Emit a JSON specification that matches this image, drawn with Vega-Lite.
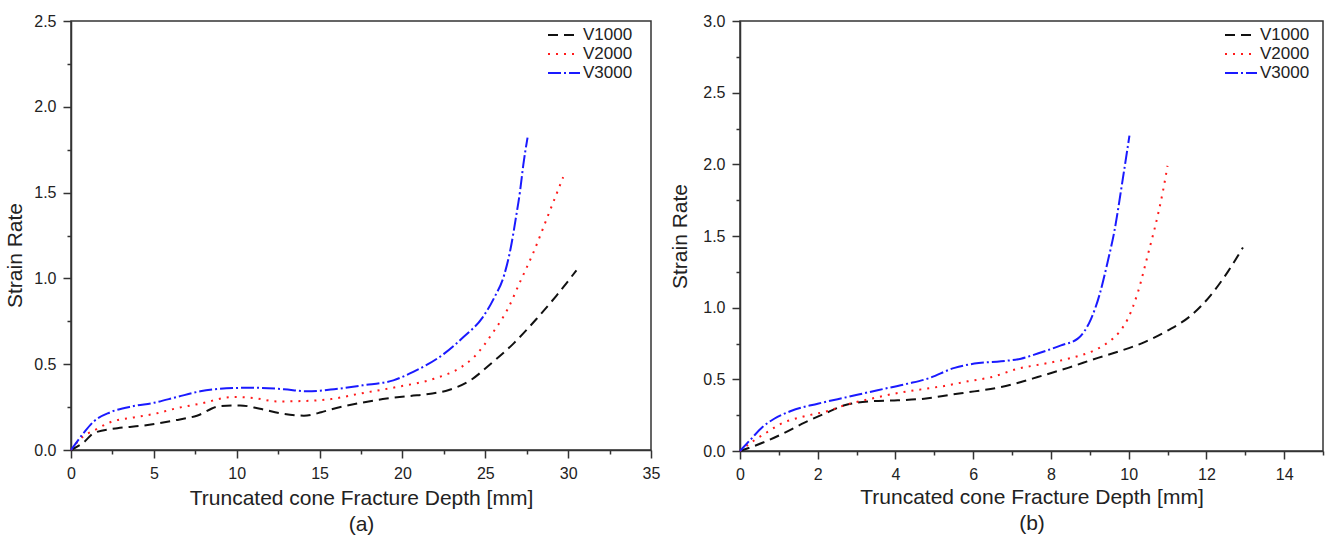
{
  "$schema": "https://vega.github.io/schema/vega-lite/v6.json",
  "background": "white",
  "padding": {"left": 4, "top": 12, "right": 0, "bottom": 0},
  "spacing": 8,
  "resolve": {
    "scale": {"color": "independent", "strokeDash": "independent"},
    "legend": {"color": "independent", "strokeDash": "independent"}
  },
  "config": {
    "view": {"stroke": "#333333", "strokeWidth": 1.5},
    "axis": {
      "grid": false,
      "domainColor": "#333333",
      "domainWidth": 1.5,
      "tickColor": "#333333",
      "tickWidth": 1.5,
      "labelFont": "Liberation Sans",
      "labelFontSize": 16,
      "labelColor": "#222222",
      "labelPadding": 7,
      "labelOverlap": false,
      "labelFlush": false,
      "titleFont": "Liberation Sans",
      "titleFontSize": 21,
      "titleFontWeight": "normal",
      "titleColor": "#222222"
    },
    "legend": {
      "padding": 0,
      "title": null,
      "labelFont": "Liberation Sans",
      "labelFontSize": 17,
      "labelColor": "#222222",
      "symbolType": "M-1.6,0H1.6",
      "symbolSize": 400,
      "symbolStrokeWidth": 2,
      "symbolFillColor": "transparent",
      "labelOffset": 8,
      "rowPadding": 0
    },
    "line": {"strokeWidth": 2, "interpolate": "monotone"}
  },
  "datasets": {
    "a": [
      {"series": "V1000", "x": 0, "y": 0},
      {"series": "V1000", "x": 0.77, "y": 0.045},
      {"series": "V1000", "x": 1.4, "y": 0.1},
      {"series": "V1000", "x": 2.8, "y": 0.127},
      {"series": "V1000", "x": 4.4, "y": 0.143},
      {"series": "V1000", "x": 6.2, "y": 0.172},
      {"series": "V1000", "x": 7.6, "y": 0.2},
      {"series": "V1000", "x": 9.0, "y": 0.256},
      {"series": "V1000", "x": 10.2, "y": 0.26},
      {"series": "V1000", "x": 11.4, "y": 0.24},
      {"series": "V1000", "x": 12.85, "y": 0.21},
      {"series": "V1000", "x": 14.05, "y": 0.2},
      {"series": "V1000", "x": 15.1, "y": 0.22},
      {"series": "V1000", "x": 15.7, "y": 0.237},
      {"series": "V1000", "x": 17.5, "y": 0.275},
      {"series": "V1000", "x": 19.05, "y": 0.3},
      {"series": "V1000", "x": 20.5, "y": 0.315},
      {"series": "V1000", "x": 21.7, "y": 0.328},
      {"series": "V1000", "x": 22.8, "y": 0.35},
      {"series": "V1000", "x": 24.1, "y": 0.406},
      {"series": "V1000", "x": 25.3, "y": 0.5},
      {"series": "V1000", "x": 26.7, "y": 0.62},
      {"series": "V1000", "x": 28.1, "y": 0.765},
      {"series": "V1000", "x": 29.3, "y": 0.9},
      {"series": "V1000", "x": 30.5, "y": 1.047},
      {"series": "V2000", "x": 0, "y": 0},
      {"series": "V2000", "x": 0.56, "y": 0.064},
      {"series": "V2000", "x": 1.57, "y": 0.123},
      {"series": "V2000", "x": 2.37, "y": 0.162},
      {"series": "V2000", "x": 3.78, "y": 0.19},
      {"series": "V2000", "x": 5.0, "y": 0.21},
      {"series": "V2000", "x": 6.4, "y": 0.244},
      {"series": "V2000", "x": 7.8, "y": 0.27},
      {"series": "V2000", "x": 9.8, "y": 0.309},
      {"series": "V2000", "x": 11.0, "y": 0.303},
      {"series": "V2000", "x": 12.45, "y": 0.283},
      {"series": "V2000", "x": 13.9, "y": 0.285},
      {"series": "V2000", "x": 15.7, "y": 0.297},
      {"series": "V2000", "x": 17.4, "y": 0.328},
      {"series": "V2000", "x": 19.65, "y": 0.367},
      {"series": "V2000", "x": 21.9, "y": 0.415},
      {"series": "V2000", "x": 23.5, "y": 0.48},
      {"series": "V2000", "x": 24.3, "y": 0.54},
      {"series": "V2000", "x": 25.5, "y": 0.69},
      {"series": "V2000", "x": 26.4, "y": 0.83},
      {"series": "V2000", "x": 27.1, "y": 0.98},
      {"series": "V2000", "x": 27.9, "y": 1.15},
      {"series": "V2000", "x": 28.8, "y": 1.37},
      {"series": "V2000", "x": 29.7, "y": 1.59},
      {"series": "V3000", "x": 0, "y": 0},
      {"series": "V3000", "x": 0.77, "y": 0.1},
      {"series": "V3000", "x": 1.37, "y": 0.166},
      {"series": "V3000", "x": 2.37, "y": 0.22},
      {"series": "V3000", "x": 3.78, "y": 0.256},
      {"series": "V3000", "x": 5.0, "y": 0.275},
      {"series": "V3000", "x": 6.4, "y": 0.309},
      {"series": "V3000", "x": 7.8, "y": 0.342},
      {"series": "V3000", "x": 9.8, "y": 0.361},
      {"series": "V3000", "x": 11.0, "y": 0.363},
      {"series": "V3000", "x": 12.85, "y": 0.354},
      {"series": "V3000", "x": 14.26, "y": 0.342},
      {"series": "V3000", "x": 15.67, "y": 0.352},
      {"series": "V3000", "x": 17.6, "y": 0.377},
      {"series": "V3000", "x": 19.45, "y": 0.406},
      {"series": "V3000", "x": 20.65, "y": 0.455},
      {"series": "V3000", "x": 22.5, "y": 0.56},
      {"series": "V3000", "x": 23.7, "y": 0.66},
      {"series": "V3000", "x": 24.82, "y": 0.77},
      {"series": "V3000", "x": 25.53, "y": 0.886},
      {"series": "V3000", "x": 26.14, "y": 1.02},
      {"series": "V3000", "x": 26.54, "y": 1.18},
      {"series": "V3000", "x": 26.85, "y": 1.355},
      {"series": "V3000", "x": 27.1, "y": 1.51},
      {"series": "V3000", "x": 27.3, "y": 1.666},
      {"series": "V3000", "x": 27.55, "y": 1.82}
    ],
    "b": [
      {"series": "V1000", "x": 0, "y": 0},
      {"series": "V1000", "x": 0.63, "y": 0.063},
      {"series": "V1000", "x": 1.14, "y": 0.126},
      {"series": "V1000", "x": 1.66, "y": 0.198},
      {"series": "V1000", "x": 2.17, "y": 0.26},
      {"series": "V1000", "x": 2.69, "y": 0.319},
      {"series": "V1000", "x": 3.37, "y": 0.347},
      {"series": "V1000", "x": 4.06, "y": 0.354},
      {"series": "V1000", "x": 4.74, "y": 0.365},
      {"series": "V1000", "x": 5.43, "y": 0.393},
      {"series": "V1000", "x": 6.03, "y": 0.416},
      {"series": "V1000", "x": 6.72, "y": 0.446},
      {"series": "V1000", "x": 7.23, "y": 0.481},
      {"series": "V1000", "x": 7.66, "y": 0.516},
      {"series": "V1000", "x": 8.44, "y": 0.58},
      {"series": "V1000", "x": 9.21, "y": 0.65},
      {"series": "V1000", "x": 9.81, "y": 0.7},
      {"series": "V1000", "x": 10.41, "y": 0.76},
      {"series": "V1000", "x": 11.0, "y": 0.84},
      {"series": "V1000", "x": 11.61, "y": 0.947},
      {"series": "V1000", "x": 12.12, "y": 1.09},
      {"series": "V1000", "x": 12.55, "y": 1.25},
      {"series": "V1000", "x": 12.94, "y": 1.42},
      {"series": "V2000", "x": 0, "y": 0},
      {"series": "V2000", "x": 0.37, "y": 0.075},
      {"series": "V2000", "x": 0.71, "y": 0.133},
      {"series": "V2000", "x": 1.01, "y": 0.184},
      {"series": "V2000", "x": 1.66, "y": 0.242},
      {"series": "V2000", "x": 2.26, "y": 0.279},
      {"series": "V2000", "x": 2.77, "y": 0.326},
      {"series": "V2000", "x": 3.37, "y": 0.365},
      {"series": "V2000", "x": 3.97, "y": 0.4},
      {"series": "V2000", "x": 4.66, "y": 0.43},
      {"series": "V2000", "x": 5.26, "y": 0.454},
      {"series": "V2000", "x": 5.86, "y": 0.486},
      {"series": "V2000", "x": 6.46, "y": 0.515},
      {"series": "V2000", "x": 7.15, "y": 0.574},
      {"series": "V2000", "x": 7.83, "y": 0.609},
      {"series": "V2000", "x": 8.52, "y": 0.649},
      {"series": "V2000", "x": 9.12, "y": 0.703},
      {"series": "V2000", "x": 9.46, "y": 0.756},
      {"series": "V2000", "x": 9.76, "y": 0.83},
      {"series": "V2000", "x": 9.98, "y": 0.923},
      {"series": "V2000", "x": 10.24, "y": 1.11},
      {"series": "V2000", "x": 10.49, "y": 1.365},
      {"series": "V2000", "x": 10.75, "y": 1.645},
      {"series": "V2000", "x": 10.88, "y": 1.81},
      {"series": "V2000", "x": 11.0, "y": 1.99},
      {"series": "V3000", "x": 0, "y": 0},
      {"series": "V3000", "x": 0.28, "y": 0.082},
      {"series": "V3000", "x": 0.58, "y": 0.167},
      {"series": "V3000", "x": 0.88, "y": 0.225},
      {"series": "V3000", "x": 1.31, "y": 0.279},
      {"series": "V3000", "x": 2.0, "y": 0.33},
      {"series": "V3000", "x": 2.77, "y": 0.377},
      {"series": "V3000", "x": 3.54, "y": 0.424},
      {"series": "V3000", "x": 4.32, "y": 0.47},
      {"series": "V3000", "x": 4.83, "y": 0.505},
      {"series": "V3000", "x": 5.52, "y": 0.58},
      {"series": "V3000", "x": 6.03, "y": 0.61},
      {"series": "V3000", "x": 6.72, "y": 0.626},
      {"series": "V3000", "x": 7.23, "y": 0.644},
      {"series": "V3000", "x": 7.66, "y": 0.68},
      {"series": "V3000", "x": 8.26, "y": 0.737},
      {"series": "V3000", "x": 8.69, "y": 0.784},
      {"series": "V3000", "x": 8.86, "y": 0.835},
      {"series": "V3000", "x": 9.03, "y": 0.92},
      {"series": "V3000", "x": 9.25, "y": 1.09},
      {"series": "V3000", "x": 9.46, "y": 1.32},
      {"series": "V3000", "x": 9.63, "y": 1.53},
      {"series": "V3000", "x": 9.85, "y": 1.9},
      {"series": "V3000", "x": 10.02, "y": 2.2}
    ]
  },
  "hconcat": [
    {
      "width": 580,
      "height": 429,
      "data": {"name": "a"},
      "mark": {"type": "line"},
      "encoding": {
        "x": {
          "field": "x", "type": "quantitative",
          "scale": {"domain": [0, 35], "nice": false, "zero": false},
          "axis": {
            "values": [0, 2.5, 5, 7.5, 10, 12.5, 15, 17.5, 20, 22.5, 25, 27.5, 30, 32.5, 35],
            "labelExpr": "datum.value % 5 === 0 ? datum.label : ''",
            "tickSize": {"condition": {"test": "datum.value % 5 === 0", "value": 8}, "value": 4},
            "title": ["Truncated cone Fracture Depth [mm]", "(a)"],
            "titleLineHeight": 26,
            "titlePadding": 6
          }
        },
        "y": {
          "field": "y", "type": "quantitative",
          "scale": {"domain": [0, 2.5], "nice": false},
          "axis": {
            "values": [0, 0.25, 0.5, 0.75, 1, 1.25, 1.5, 1.75, 2, 2.25, 2.5],
            "labelExpr": "abs(datum.value * 2 - round(datum.value * 2)) < 0.001 ? format(datum.value, '.1f') : ''",
            "tickSize": {"condition": {"test": "abs(datum.value * 2 - round(datum.value * 2)) < 0.001", "value": 8}, "value": 4},
            "title": "Strain Rate",
            "titlePadding": 8,
            "titleY": 234
          }
        },
        "color": {
          "field": "series", "type": "nominal",
          "scale": {"domain": ["V1000", "V2000", "V3000"], "range": ["#111111", "#ff1a1a", "#1a1aff"]},
          "legend": {"orient": "none", "legendX": 482, "legendY": 3}
        },
        "strokeDash": {
          "field": "series", "type": "nominal",
          "scale": {"domain": ["V1000", "V2000", "V3000"], "range": [[10, 6], [2, 6], [13, 3, 2, 3]]},
          "legend": {"orient": "none", "legendX": 482, "legendY": 3}
        }
      }
    },
    {
      "width": 583,
      "height": 430,
      "data": {"name": "b"},
      "mark": {"type": "line"},
      "encoding": {
        "x": {
          "field": "x", "type": "quantitative",
          "scale": {"domain": [0, 15], "nice": false, "zero": false},
          "axis": {
            "values": [0, 1, 2, 3, 4, 5, 6, 7, 8, 9, 10, 11, 12, 13, 14, 15],
            "labelExpr": "datum.value % 2 === 0 ? datum.label : ''",
            "tickSize": {"condition": {"test": "datum.value % 2 === 0", "value": 8}, "value": 4},
            "title": ["Truncated cone Fracture Depth [mm]", "(b)"],
            "titleLineHeight": 26,
            "titlePadding": 4
          }
        },
        "y": {
          "field": "y", "type": "quantitative",
          "scale": {"domain": [0, 3], "nice": false},
          "axis": {
            "values": [0, 0.25, 0.5, 0.75, 1, 1.25, 1.5, 1.75, 2, 2.25, 2.5, 2.75, 3],
            "labelExpr": "abs(datum.value * 2 - round(datum.value * 2)) < 0.001 ? format(datum.value, '.1f') : ''",
            "tickSize": {"condition": {"test": "abs(datum.value * 2 - round(datum.value * 2)) < 0.001", "value": 8}, "value": 4},
            "title": "Strain Rate",
            "titlePadding": 12
          }
        },
        "color": {
          "field": "series", "type": "nominal",
          "scale": {"domain": ["V1000", "V2000", "V3000"], "range": ["#111111", "#ff1a1a", "#1a1aff"]},
          "legend": {"orient": "none", "legendX": 490, "legendY": 3}
        },
        "strokeDash": {
          "field": "series", "type": "nominal",
          "scale": {"domain": ["V1000", "V2000", "V3000"], "range": [[10, 6], [2, 6], [13, 3, 2, 3]]},
          "legend": {"orient": "none", "legendX": 490, "legendY": 3}
        }
      }
    }
  ]
}
